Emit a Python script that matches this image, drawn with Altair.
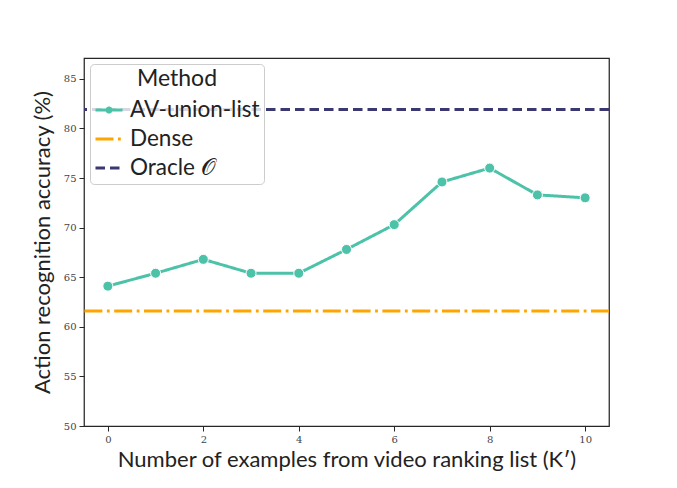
import altair as alt
import pandas as pd

K = list(range(11))
acc = [64.1, 65.4, 66.8, 65.4, 65.4, 67.8, 70.3, 74.6, 76.0, 73.3, 73.0]
methods = ["AV-union-list", "Dense", "Oracle 𝒪"]
ref_methods = ["Dense", "Oracle 𝒪"]
ref_values = [61.6, 81.9]
colors = ["#4cc2a9", "#ffa500", "#3b3770"]
dashes = [[1, 0], [18, 4.5, 2.8, 4.5], [9.5, 5]]
y_ticks = [50, 55, 60, 65, 70, 75, 80, 85]
x_ticks = [0, 2, 4, 6, 8, 10]

line_df = pd.DataFrame({"K": K, "acc": acc, "Method": methods[0]})
ref_df = pd.DataFrame({"acc": ref_values, "Method": ref_methods})

SANS = "Lato"
SERIF = "DejaVu Serif"

circle_path = "M-1,0L1,0M-0.15,0a0.15,0.15 0 1,0 0.3,0a0.15,0.15 0 1,0 -0.3,0"
sym_expr = "datum.value === 'AV-union-list' ? '" + circle_path + "' : 'stroke'"

legend = alt.Legend(
    title="Method",
    orient="none",
    legendX=6,
    legendY=6,
    titleFont=SANS,
    titleFontSize=23,
    titleFontWeight="normal",
    titleColor="#222222",
    titleAnchor="middle",
    titlePadding=4,
    labelFont=SANS,
    labelFontSize=22.5,
    labelColor="#222222",
    labelOffset=6,
    symbolType=alt.ExprRef(expr=sym_expr),
    symbolSize=729,
    symbolStrokeWidth=3,
    rowPadding=2,
    padding=4,
    fillColor="rgba(255,255,255,0.8)",
    strokeColor="#cccccc",
    cornerRadius=4,
)

color = alt.Color("Method:N", scale=alt.Scale(domain=methods, range=colors), legend=legend)
dash = alt.StrokeDash("Method:N", scale=alt.Scale(domain=methods, range=dashes), legend=legend)

x_enc = alt.X(
    "K:Q",
    scale=alt.Scale(domain=[-0.5, 10.5], nice=False, zero=False),
    axis=alt.Axis(values=x_ticks, title="Number of examples from video ranking list (K′)", titlePadding=5),
)
y_enc = alt.Y(
    "acc:Q",
    scale=alt.Scale(domain=[50, 87.1], nice=False, zero=False),
    axis=alt.Axis(values=y_ticks, title="Action recognition accuracy (%)", titlePadding=9),
)

line = alt.Chart(line_df).mark_line(strokeWidth=3).encode(x=x_enc, y=y_enc, color=color, strokeDash=dash)
points = alt.Chart(line_df).mark_point(filled=True, size=100, opacity=1, stroke="white", strokeWidth=1).encode(
    x=x_enc, y=y_enc, color=alt.value("#4cc2a9")
)
rules = alt.Chart(ref_df).mark_rule(strokeWidth=3).encode(y=y_enc, color=color, strokeDash=dash)

chart = (
    alt.layer(rules, line, points)
    .properties(
        width=525,
        height=368,
        autosize=alt.AutoSizeParams(type="none"),
        padding={"left": 76, "top": 50, "right": 60, "bottom": 54},
    )
    .configure_view(stroke="#262626", strokeWidth=1.25)
    .configure_axis(
        grid=False,
        domain=False,
        tickColor="#262626",
        tickSize=5,
        tickWidth=1,
        labelFont=SERIF,
        labelFontSize=10,
        labelColor="#444444",
        labelPadding=3,
        titleFont=SANS,
        titleFontSize=22,
        titleFontWeight="normal",
        titleColor="#222222",
    )
)

chart.save("out.html", embed_options={"renderer": "svg", "actions": False})
